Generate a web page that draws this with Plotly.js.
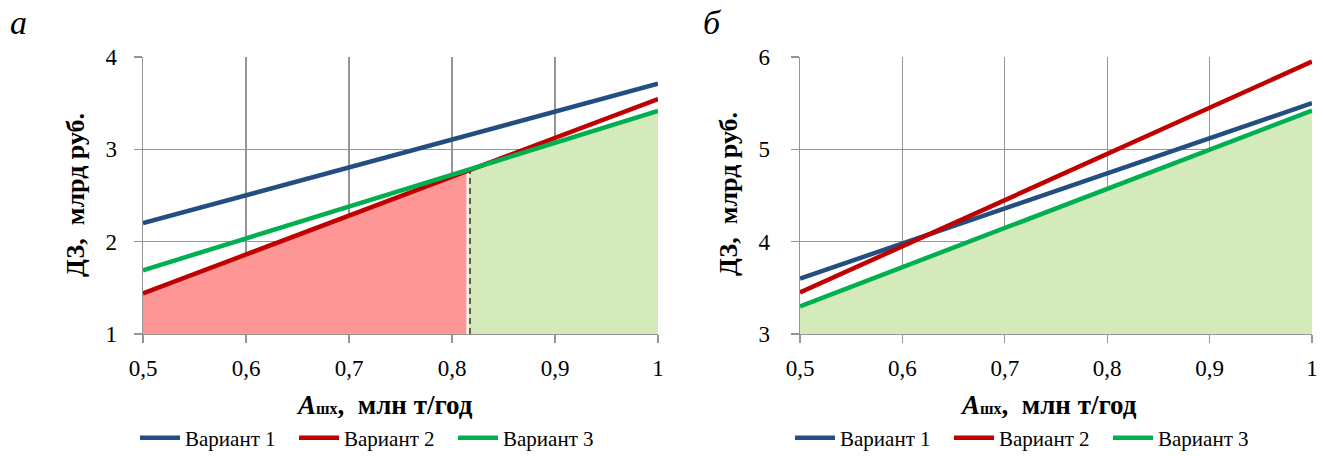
<!DOCTYPE html>
<html><head><meta charset="utf-8">
<script src="https://cdn.plot.ly/plotly-3.0.1.min.js"></script>
<style>html,body{margin:0;padding:0;background:#fff}#c{width:1323px;height:456px}</style>
</head><body><div id="c"></div>
<script>
// Data
const xVals = [0.5, 0.6, 0.7, 0.8, 0.9, 1.0];
const seriesNames = ['Вариант 1', 'Вариант 2', 'Вариант 3'];
// Panel а
const a_v1 = [2.20, 2.50, 2.80, 3.10, 3.40, 3.71];
const a_v2 = [1.44, 1.86, 2.28, 2.70, 3.12, 3.545];
const a_v3 = [1.69, 2.035, 2.38, 2.725, 3.07, 3.415];
const a_cross = 0.815; // boundary between red and green zones
// Panel б
const b_v1 = [3.60, 3.98, 4.36, 4.74, 5.12, 5.50];
const b_v2 = [3.45, 3.95, 4.45, 4.95, 5.45, 5.95];
const b_v3 = [3.30, 3.724, 4.148, 4.572, 4.996, 5.42];
const xTicks = [0.5, 0.6, 0.7, 0.8, 0.9, 1.0];
const aYTicks = [1, 2, 3, 4];
const bYTicks = [3, 4, 5, 6];
const panelLabels = ['а', 'б'];

const colors = ['#254E80', '#C00000', '#00B050'];
const fillRed = 'rgba(255,150,150,1)';
const fillGreen = 'rgba(213,234,186,1)';

function interp(xs, ys, x) {
  for (let i = 0; i < xs.length - 1; i++) {
    if (x >= xs[i] && x <= xs[i+1]) {
      const t = (x - xs[i]) / (xs[i+1] - xs[i]);
      return ys[i] + t * (ys[i+1] - ys[i]);
    }
  }
  return ys[ys.length-1];
}
const crossY = interp(xVals, a_v3, a_cross);
const redX = [], redY = [];
xVals.forEach((x, i) => { if (x < a_cross) { redX.push(x); redY.push(a_v2[i]); } });
redX.push(a_cross); redY.push(crossY);
const greenX = [a_cross], greenY = [crossY];
xVals.forEach((x, i) => { if (x > a_cross) { greenX.push(x); greenY.push(a_v3[i]); } });

const traces = [
  {x: redX, y: redY, type: 'scatter', mode: 'lines', fill: 'tozeroy', fillcolor: fillRed, line: {width: 0}, showlegend: false, hoverinfo: 'skip', xaxis: 'x', yaxis: 'y'},
  {x: greenX, y: greenY, type: 'scatter', mode: 'lines', fill: 'tozeroy', fillcolor: fillGreen, line: {width: 0}, showlegend: false, hoverinfo: 'skip', xaxis: 'x', yaxis: 'y'},
  {x: [a_cross, a_cross], y: [aYTicks[0], crossY], type: 'scatter', mode: 'lines', line: {color: '#FFFFFF', width: 2}, showlegend: false, hoverinfo: 'skip', xaxis: 'x', yaxis: 'y'},
  {x: [a_cross + 0.0025, a_cross + 0.0025], y: [aYTicks[0], crossY], type: 'scatter', mode: 'lines', line: {color: '#333333', width: 1.5, dash: '6px,4px'}, showlegend: false, hoverinfo: 'skip', xaxis: 'x', yaxis: 'y'},
  {x: xVals, y: b_v3, type: 'scatter', mode: 'lines', fill: 'tozeroy', fillcolor: fillGreen, line: {width: 0}, showlegend: false, hoverinfo: 'skip', xaxis: 'x2', yaxis: 'y2'},
];
[a_v1, a_v2, a_v3].forEach((ys, i) => traces.push({x: xVals, y: ys, type: 'scatter', mode: 'lines', name: seriesNames[i], line: {color: colors[i], width: 4.5}, xaxis: 'x', yaxis: 'y', legend: 'legend'}));
[b_v1, b_v2, b_v3].forEach((ys, i) => traces.push({x: xVals, y: ys, type: 'scatter', mode: 'lines', name: seriesNames[i], line: {color: colors[i], width: 4.5}, xaxis: 'x2', yaxis: 'y2', legend: 'legend2'}));

const FAM = 'Liberation Serif, serif';
const font = {family: FAM, size: 23, color: '#000'};
const xTitle = '<b><i>A</i><span style="font-size:16px">шх</span>,  млн т/год</b>';
const yTitle = '<b>ДЗ,  млрд руб.</b>';
function xAxis(domain, anchor) {
  return {domain: domain, anchor: anchor, range: [0.5, 1.0], tickvals: xTicks, showgrid: true, gridcolor: '#959595', gridwidth: 1.3,
    showline: true, linecolor: '#959595', linewidth: 1.3, ticks: 'outside', ticklen: 8, tickcolor: '#959595', tickwidth: 1.3,
    tickfont: font, ticklabelstandoff: 5, zeroline: false, automargin: false};
}
function yAxis(domain, anchor, ticks, standoff) {
  return {domain: domain, anchor: anchor, range: [ticks[0], ticks[ticks.length-1]], tickvals: ticks, showgrid: true, gridcolor: '#959595', gridwidth: 1.3,
    showline: true, linecolor: '#959595', linewidth: 1.3, ticks: 'outside', ticklen: 8, tickcolor: '#959595', tickwidth: 1.3,
    tickfont: font, ticklabelstandoff: standoff, zeroline: false, automargin: false};
}
const yDom = [1 - 334/456, 1 - 57/456];
const legendCommon = {orientation: 'h', yanchor: 'middle', y: 1 - 438/456, xanchor: 'left', font: {family: FAM, size: 21, color: '#000'}, entrywidth: 104, itemwidth: 40, bgcolor: 'rgba(0,0,0,0)', tracegroupgap: 0};
const ann = (text, x, y, size, extra) => Object.assign({text: text, x: x/1323, y: 1 - y/456, xref: 'paper', yref: 'paper', xanchor: 'center', yanchor: 'middle', showarrow: false, font: {family: FAM, size: size, color: '#000'}}, extra || {});
const layout = {
  width: 1323, height: 456, margin: {l: 0, r: 0, t: 0, b: 0, autoexpand: false}, paper_bgcolor: '#fff', plot_bgcolor: '#fff',
  separators: ', ', font: font, showlegend: true,
  xaxis: xAxis([143/1323, 658/1323], 'y'),
  yaxis: yAxis(yDom, 'x', aYTicks, 12),
  xaxis2: xAxis([800/1323, 1312/1323], 'y2'),
  yaxis2: yAxis(yDom, 'x2', bYTicks, 16),
  legend: Object.assign({}, legendCommon, {x: 135/1323}),
  legend2: Object.assign({}, legendCommon, {x: 790/1323}),
  annotations: [
    ann('<i>' + panelLabels[0] + '</i>', 18, 22, 34),
    ann('<i>' + panelLabels[1] + '</i>', 712, 22, 34),
    ann(xTitle, 384, 405, 27),
    ann(xTitle, 1048, 405, 27),
    ann(yTitle, 76, 195, 26, {textangle: -90}),
    ann(yTitle, 728, 194, 26, {textangle: -90})
  ]
};
Plotly.newPlot('c', traces, layout, {displayModeBar: false, staticPlot: true});
</script></body></html>
